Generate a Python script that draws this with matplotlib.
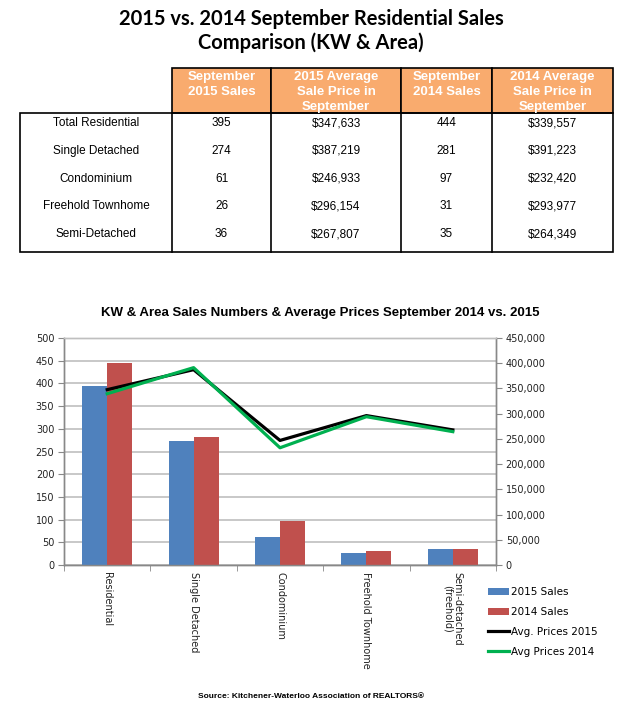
import matplotlib
matplotlib.use("Agg")
import matplotlib.pyplot as plt
from matplotlib.patches import Rectangle
from matplotlib.ticker import FuncFormatter, MultipleLocator

# ---------------- data ----------------
row_labels = ["Total Residential", "Single Detached", "Condominium",
              "Freehold Townhome", "Semi-Detached"]
col_headers = ["September\n2015 Sales", "2015 Average\nSale Price in\nSeptember",
               "September\n2014 Sales", "2014 Average\nSale Price in\nSeptember"]
sales_2015 = [395, 274, 61, 26, 36]
price_2015 = [347633, 387219, 246933, 296154, 267807]
sales_2014 = [444, 281, 97, 31, 35]
price_2014 = [339557, 391223, 232420, 293977, 264349]

chart_categories = ["Residential", "Single Detached", "Condominium",
                    "Freehold Townhome", "Semi-detached\n(freehold)"]
legend_labels = ["2015 Sales", "2014 Sales", "Avg. Prices 2015", "Avg Prices 2014"]

title_text = "2015 vs. 2014 September Residential Sales\nComparison (KW & Area)"
chart_title = "KW & Area Sales Numbers & Average Prices September 2014 vs. 2015"
source_text = "Source: Kitchener-Waterloo Association of REALTORS\u00ae"

BLUE = "#4F81BD"
RED = "#C0504D"
GREEN = "#00B050"
ORANGE = "#F9AB6E"
GRID = "#BFBFBF"

W, H = 623, 717
fig = plt.figure(figsize=(W / 100, H / 100), dpi=100)

# ---------------- overlay for title + table ----------------
ov = fig.add_axes([0, 0, 1, 1])
ov.set_xlim(0, W)
ov.set_ylim(H, 0)
ov.axis("off")

ov.text(311, 31, title_text, ha="center", va="center", fontsize=14.5,
        fontweight="bold", family="Lato", linespacing=1.15, color="black")

col_x = [20, 172, 271, 401, 492, 613]
head_top, head_bot = 68, 113
tab_bot = 252
row_h = (tab_bot - head_bot) / len(row_labels)

# header cells
for i in range(4):
    ov.add_patch(Rectangle((col_x[i + 1], head_top), col_x[i + 2] - col_x[i + 1],
                           head_bot - head_top, facecolor=ORANGE,
                           edgecolor="black", lw=1.2))
    for k, line in enumerate(col_headers[i].split("\n")):
        ov.text((col_x[i + 1] + col_x[i + 2]) / 2, 77 + 15 * k, line,
                ha="center", va="center", fontsize=9.5, fontweight="bold",
                color="white", family="Liberation Sans")

# data body box and vertical lines
ov.add_patch(Rectangle((col_x[0], head_bot), col_x[-1] - col_x[0],
                       tab_bot - head_bot, facecolor="none",
                       edgecolor="black", lw=1.2))
for x in col_x[1:-1]:
    ov.plot([x, x], [head_bot, tab_bot], color="black", lw=1.2)

cols = [row_labels,
        [str(v) for v in sales_2015],
        ["${:,}".format(v) for v in price_2015],
        [str(v) for v in sales_2014],
        ["${:,}".format(v) for v in price_2014]]
for r in range(len(row_labels)):
    y = head_bot + r * row_h + 10
    for c in range(5):
        ov.text((col_x[c] + col_x[c + 1]) / 2, y, cols[c][r], ha="center",
                va="center", fontsize=8.5, family="Liberation Sans",
                color="black")

ov.text(320, 313, chart_title, ha="center", va="center", fontsize=9.5,
        fontweight="bold", family="Liberation Sans")
ov.text(311, 697, source_text, ha="center", va="center", fontsize=6,
        fontweight="bold", family="Liberation Sans")

# ---------------- chart ----------------
px0, px1, py0, py1 = 64, 496, 338, 565
ax = fig.add_axes([px0 / W, 1 - py1 / H, (px1 - px0) / W, (py1 - py0) / H])
ax2 = ax.twinx()

n = len(chart_categories)
xs = list(range(n))
bw = 0.29
b1 = ax.bar([x - bw / 2 for x in xs], sales_2015, width=bw, color=BLUE, zorder=3)
b2 = ax.bar([x + bw / 2 for x in xs], sales_2014, width=bw, color=RED, zorder=3)

ax.set_xlim(-0.5, n - 0.5)
ax.set_ylim(0, 500)
ax.yaxis.set_major_locator(MultipleLocator(50))
ax.grid(axis="y", color=GRID, lw=1.2, zorder=0)
ax.set_axisbelow(True)

ax2.set_ylim(0, 450000)
ax2.yaxis.set_major_locator(MultipleLocator(50000))
ax2.yaxis.set_major_formatter(FuncFormatter(lambda v, p: "{:,}".format(int(v))))
l1, = ax2.plot(xs, price_2015, color="black", lw=2.3, zorder=4)
l2, = ax2.plot(xs, price_2014, color=GREEN, lw=2.3, zorder=5)

ax.set_xticks(xs)
ax.set_xticklabels(chart_categories, rotation=270, fontsize=7,
                   family="DejaVu Sans", color="#222222", va="top",
                   linespacing=1.0)
ax.tick_params(axis="x", which="major", length=0, pad=5)
ax.set_xticks([x - 0.5 for x in range(n + 1)], minor=True)
ax.tick_params(axis="x", which="minor", length=4, color="#888888")

for a in (ax, ax2):
    for s in a.spines.values():
        s.set_color("#888888")
        s.set_linewidth(1.0)
    a.spines["top"].set_color(GRID)
ax.tick_params(axis="y", length=4, color="#888888", labelsize=7, pad=3,
               labelcolor="#222222")
ax2.tick_params(axis="y", length=4, color="#888888", labelsize=7, pad=3,
                labelcolor="#222222")
for a in (ax, ax2):
    for t in a.get_yticklabels():
        t.set_family("DejaVu Sans")

leg = fig.legend([b1, b2, l1, l2], legend_labels, loc="upper left",
                 bbox_to_anchor=(484 / W, 1 - 583 / H), frameon=False,
                 fontsize=7.5, handlelength=2.0, handleheight=0.6,
                 labelspacing=0.95, handletextpad=0.2, borderaxespad=0)

fig.savefig("out.png", dpi=100)
